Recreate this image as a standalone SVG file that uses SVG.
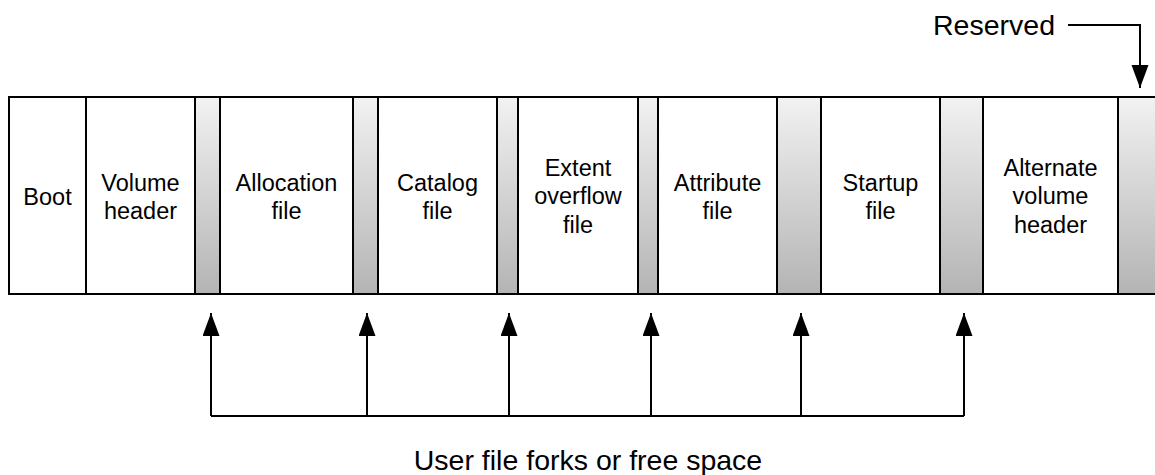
<svg xmlns="http://www.w3.org/2000/svg" width="1155" height="475" viewBox="0 0 1155 475">
  <style>
    .cell { fill: #ffffff; stroke: #000000; stroke-width: 2; }
    .gap { fill: url(#gapShade); stroke: #000000; stroke-width: 2; }
    .lbl { font-family: "Liberation Sans", Arial, sans-serif; font-size: 23.5px; fill: #000000; text-anchor: middle; }
    .big { font-family: "Liberation Sans", Arial, sans-serif; font-size: 28.5px; fill: #000000; }
    .wire { fill: none; stroke: #000000; stroke-width: 2; }
  </style>
  <defs>
    <linearGradient id="gapShade" x1="0" y1="0" x2="0" y2="1">
      <stop offset="0" stop-color="#f2f2f2"/>
      <stop offset="1" stop-color="#b4b4b4"/>
    </linearGradient>
    <marker id="head" markerUnits="userSpaceOnUse" markerWidth="24" markerHeight="18" refX="23" refY="8.5" orient="auto">
      <path d="M0,0 L23,8.5 L0,17 z" fill="#000000"/>
    </marker>
  </defs>

  <rect width="1155" height="475" fill="#ffffff"/>

  <!-- volume layout, left to right -->
  <g id="boot">
    <rect class="cell" x="9" y="97" width="77" height="197"/>
    <text class="lbl" x="47.5" y="205">Boot</text>
  </g>
  <g id="volume-header">
    <rect class="cell" x="86" y="97" width="109" height="197"/>
    <text class="lbl" x="140.5" y="191">Volume</text>
    <text class="lbl" x="140.5" y="219">header</text>
  </g>
  <g id="gap-1"><rect class="gap" x="195" y="97" width="25" height="197"/></g>
  <g id="allocation-file">
    <rect class="cell" x="220" y="97" width="133" height="197"/>
    <text class="lbl" x="286.5" y="191">Allocation</text>
    <text class="lbl" x="286.5" y="219">file</text>
  </g>
  <g id="gap-2"><rect class="gap" x="353" y="97" width="25" height="197"/></g>
  <g id="catalog-file">
    <rect class="cell" x="378" y="97" width="119" height="197"/>
    <text class="lbl" x="437.5" y="191">Catalog</text>
    <text class="lbl" x="437.5" y="219">file</text>
  </g>
  <g id="gap-3"><rect class="gap" x="497" y="97" width="21" height="197"/></g>
  <g id="extent-overflow-file">
    <rect class="cell" x="518" y="97" width="120" height="197"/>
    <text class="lbl" x="578" y="176">Extent</text>
    <text class="lbl" x="578" y="204">overflow</text>
    <text class="lbl" x="578" y="233">file</text>
  </g>
  <g id="gap-4"><rect class="gap" x="638" y="97" width="20" height="197"/></g>
  <g id="attribute-file">
    <rect class="cell" x="658" y="97" width="119" height="197"/>
    <text class="lbl" x="717.5" y="191">Attribute</text>
    <text class="lbl" x="717.5" y="219">file</text>
  </g>
  <g id="gap-5"><rect class="gap" x="777" y="97" width="44" height="197"/></g>
  <g id="startup-file">
    <rect class="cell" x="821" y="97" width="119" height="197"/>
    <text class="lbl" x="880.5" y="191">Startup</text>
    <text class="lbl" x="880.5" y="219">file</text>
  </g>
  <g id="gap-6"><rect class="gap" x="940" y="97" width="43" height="197"/></g>
  <g id="alternate-volume-header">
    <rect class="cell" x="983" y="97" width="135" height="197"/>
    <text class="lbl" x="1050.5" y="176">Alternate</text>
    <text class="lbl" x="1050.5" y="204">volume</text>
    <text class="lbl" x="1050.5" y="233">header</text>
  </g>
  <g id="reserved">
    <rect class="gap" x="1118" y="97" width="60" height="197"/>
  </g>

  <!-- callouts -->
  <g id="connectors">
    <path class="wire" d="M1068,25 H1140 V88" marker-end="url(#head)"/>
    <path class="wire" d="M211,416 H964"/>
    <path class="wire" d="M211,416 V313" marker-end="url(#head)"/>
    <path class="wire" d="M367,416 V313" marker-end="url(#head)"/>
    <path class="wire" d="M509,416 V313" marker-end="url(#head)"/>
    <path class="wire" d="M651,416 V313" marker-end="url(#head)"/>
    <path class="wire" d="M801,416 V313" marker-end="url(#head)"/>
    <path class="wire" d="M964,416 V313" marker-end="url(#head)"/>
  </g>

  <g id="labels">
    <text class="big" x="1055" y="35" text-anchor="end">Reserved</text>
    <text class="big" x="588" y="470" text-anchor="middle">User file forks or free space</text>
  </g>
</svg>
